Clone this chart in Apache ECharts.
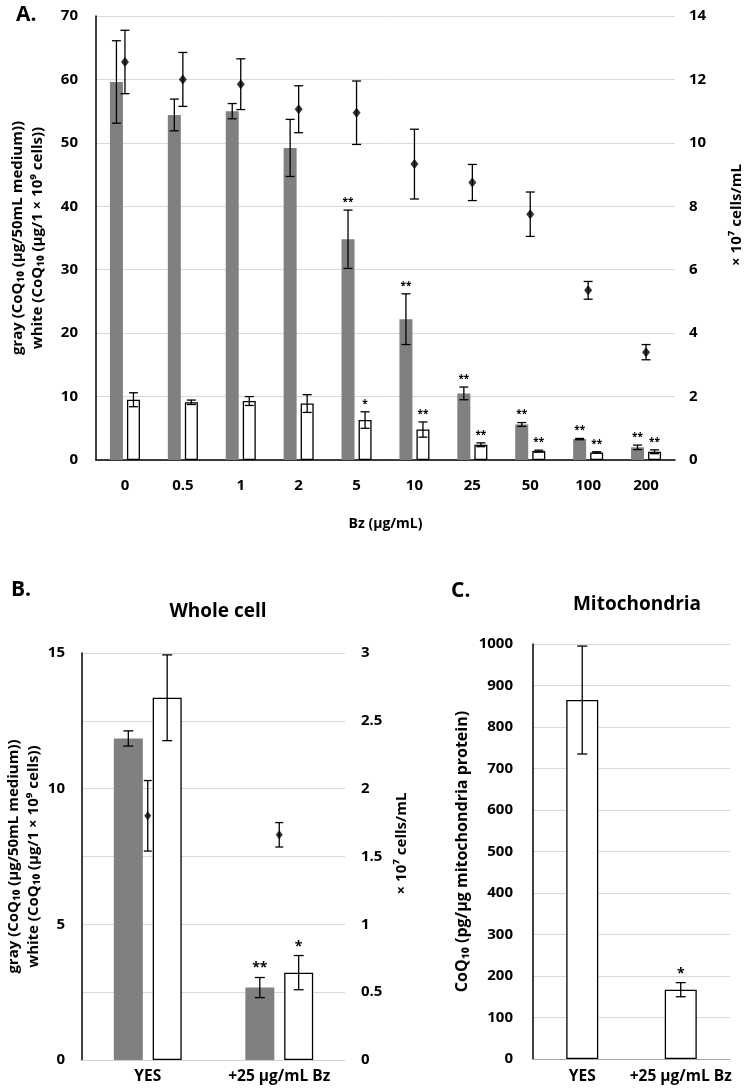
<!DOCTYPE html>
<html><head><meta charset="utf-8">
<script src="https://cdn.jsdelivr.net/npm/echarts@6/dist/echarts.min.js"></script>
<style>html,body{margin:0;padding:0;background:#fff}#c{width:755px;height:1091px}</style>
</head><body><div id="c"></div><script>
// ---- Panel A data ----
const catsA = ['0', '0.5', '1', '2', '5', '10', '25', '50', '100', '200'];
const grayA = [59.6, 54.4, 55.0, 49.2, 34.8, 22.2, 10.5, 5.6, 3.3, 2.0];
const grayErrA = [6.5, 2.5, 1.2, 4.5, 4.6, 4.0, 1.0, 0.3, 0.1, 0.35];
const whiteA = [9.5, 9.1, 9.3, 8.9, 6.3, 4.8, 2.4, 1.4, 1.2, 1.3];
const whiteErrA = [1.1, 0.35, 0.7, 1.4, 1.3, 1.2, 0.3, 0.15, 0.1, 0.3];
const cellsA = [12.55, 12.0, 11.85, 11.06, 10.95, 9.33, 8.75, 7.75, 5.35, 3.4];
const cellsErrA = [1.0, 0.85, 0.8, 0.74, 1.0, 1.1, 0.57, 0.7, 0.28, 0.24];
const sigGrayA = ['', '', '', '', '**', '**', '**', '**', '**', '**'];
const sigWhiteA = ['', '', '', '', '*', '**', '**', '**', '**', '**'];
// ---- Panel B data ----
const catsB = ['YES', '+25 μg/mL Bz'];
const grayB = [11.85, 2.67];
const grayErrB = [0.28, 0.37];
const whiteB = [13.35, 3.22];
const whiteErrB = [1.58, 0.63];
const cellsB = [1.8, 1.66];
const cellsErrB = [0.26, 0.09];
const sigGrayB = ['', '**'];
const sigWhiteB = ['', '*'];
// ---- Panel C data ----
const catsC = ['YES', '+25 μg/mL Bz'];
const mitoC = [865, 167];
const mitoErrC = [130, 17];
const sigC = ['', '*'];

const FF = '"Open Sans", "DejaVu Sans", sans-serif';
const BW_A = 13, GAP_A = 0.31;
const BW_B = 29, GAP_B = 0.34;
const BW_C = 32;
const offA = BW_A * (1 + GAP_A) / 2;
const offB = BW_B * (1 + GAP_B) / 2;

function errBars(o) {
  return {
    type: 'custom', xAxisIndex: o.xi, yAxisIndex: o.yi, z: 5,
    data: o.vals.map((v, i) => [i, v, o.errs[i]]),
    renderItem: function (params, api) {
      const i = api.value(0), v = api.value(1), e = api.value(2);
      const pH = api.coord([i, v + e]), pL = api.coord([i, v - e]);
      const x = pH[0] + o.offset, h = o.cap / 2;
      const st = { stroke: '#000', lineWidth: 1.3 };
      const ch = [
        { type: 'line', shape: { x1: x, y1: pH[1], x2: x, y2: pL[1] }, style: st },
        { type: 'line', shape: { x1: x - h, y1: pH[1], x2: x + h, y2: pH[1] }, style: st },
        { type: 'line', shape: { x1: x - h, y1: pL[1], x2: x + h, y2: pL[1] }, style: st }
      ];
      const s = o.sigs && o.sigs[params.dataIndex];
      if (s) {
        ch.push({ type: 'text', x: x, y: pH[1] - o.sigGap,
          style: { text: s, fill: '#000', fontSize: o.sigSize, fontWeight: 'bold', fontFamily: FF,
            align: 'center', verticalAlign: 'bottom' } });
      }
      return { type: 'group', children: ch };
    }
  };
}

const lbl = (m, fs) => ({ color: '#000', fontSize: fs || 15, fontWeight: 'bold', fontFamily: FF, margin: m,
  interval: 0, formatter: (v) => String(v) });
const nameStyle = (extra) => Object.assign({ color: '#000', fontSize: 15, fontWeight: 'bold', fontFamily: FF, lineHeight: 20 }, extra || {});
const grid = { lineStyle: { color: '#d9d9d9', width: 1 } };
const blackLine = { show: true, lineStyle: { color: '#000', width: 1.5 } };

const leftName = 'gray (CoQ₁₀ (μg/50mL medium))\nwhite (CoQ₁₀ (μg/1 × 10⁹ cells))';
const rightName = '× 10⁷ cells/mL';

const option = {
  animation: false,
  backgroundColor: '#fff',
  textStyle: { fontFamily: FF },
  grid: [
    { left: 90, top: 16, width: 594, height: 444 },
    { left: 82, top: 653, width: 263, height: 407 },
    { left: 533, top: 644, width: 197, height: 415 }
  ],
  xAxis: [
    { type: 'category', gridIndex: 0, data: catsA, axisLine: blackLine, axisTick: { show: false },
      axisLabel: lbl(18), name: 'Bz (μg/mL)', nameLocation: 'middle', nameGap: 54, nameTextStyle: nameStyle({ fontSize: 14 }) },
    { type: 'category', gridIndex: 1, data: catsB, axisLine: { show: true, lineStyle: { color: '#d0d0d0' } },
      axisTick: { show: false }, axisLabel: lbl(9, 15.5) },
    { type: 'category', gridIndex: 2, data: catsC, axisLine: { show: true, lineStyle: { color: '#a6a6a6' } },
      axisTick: { show: false }, axisLabel: lbl(10, 15.5) }
  ],
  yAxis: [
    { type: 'value', gridIndex: 0, min: 0, max: 70, interval: 10, axisLine: blackLine, axisTick: { show: false },
      splitLine: grid, axisLabel: lbl(18), name: leftName, nameLocation: 'middle', nameRotate: 90, nameGap: 48,
      nameTextStyle: nameStyle() },
    { type: 'value', gridIndex: 0, position: 'right', min: 0, max: 14, interval: 2, axisLine: { show: false },
      axisTick: { show: false }, splitLine: { show: false }, axisLabel: lbl(14), name: rightName,
      nameLocation: 'middle', nameRotate: 90, nameGap: 52, nameTextStyle: nameStyle({ padding: [0, 0, 0, 46] }) },
    { type: 'value', gridIndex: 1, min: 0, max: 15, interval: 5, axisLine: blackLine, axisTick: { show: false },
      splitLine: { show: false }, axisLabel: lbl(17), name: leftName, nameLocation: 'middle', nameRotate: 90,
      nameGap: 38, nameTextStyle: nameStyle() },
    { type: 'value', gridIndex: 1, position: 'right', min: 0, max: 3, interval: 0.5, axisLine: { show: false },
      axisTick: { show: false }, splitLine: grid, axisLabel: lbl(16), name: rightName, nameLocation: 'middle',
      nameRotate: 90, nameGap: 47, nameTextStyle: nameStyle({ padding: [0, 0, 0, 26] }) },
    { type: 'value', gridIndex: 2, min: 0, max: 1000, interval: 100, axisLine: blackLine, axisTick: { show: false },
      splitLine: grid, axisLabel: lbl(20), name: 'CoQ₁₀ (pg/μg mitochondria protein)', nameLocation: 'middle',
      nameRotate: 90, nameGap: 61, nameTextStyle: nameStyle({ fontSize: 16 }) }
  ],
  graphic: [
    { type: 'text', x: 16, y: 15, style: { text: 'A.', fontSize: 21, fontWeight: 'bold', fontFamily: FF, fill: '#000', verticalAlign: 'middle' } },
    { type: 'text', x: 11, y: 590, style: { text: 'B.', fontSize: 21, fontWeight: 'bold', fontFamily: FF, fill: '#000', verticalAlign: 'middle' } },
    { type: 'text', x: 451, y: 591, style: { text: 'C.', fontSize: 21, fontWeight: 'bold', fontFamily: FF, fill: '#000', verticalAlign: 'middle' } },
    { type: 'text', x: 218, y: 612, style: { text: 'Whole cell', fontSize: 19, fontWeight: 'bold', fontFamily: FF, fill: '#000', align: 'center', verticalAlign: 'middle' } },
    { type: 'text', x: 637, y: 605, style: { text: 'Mitochondria', fontSize: 19, fontWeight: 'bold', fontFamily: FF, fill: '#000', align: 'center', verticalAlign: 'middle' } }
  ],
  series: [
    // Panel A
    { type: 'bar', xAxisIndex: 0, yAxisIndex: 0, data: grayA, barWidth: BW_A, barGap: (GAP_A * 100) + '%',
      itemStyle: { color: '#808080' } },
    { type: 'bar', xAxisIndex: 0, yAxisIndex: 0, data: whiteA, barWidth: BW_A, barGap: (GAP_A * 100) + '%',
      itemStyle: { color: '#fff', borderColor: '#000', borderWidth: 1.3 } },
    errBars({ xi: 0, yi: 0, vals: grayA, errs: grayErrA, offset: -offA, cap: 9, sigs: sigGrayA, sigGap: 3, sigSize: 10 }),
    errBars({ xi: 0, yi: 0, vals: whiteA, errs: whiteErrA, offset: offA, cap: 9, sigs: sigWhiteA, sigGap: 3, sigSize: 10 }),
    errBars({ xi: 0, yi: 1, vals: cellsA, errs: cellsErrA, offset: 0, cap: 9 }),
    { type: 'scatter', xAxisIndex: 0, yAxisIndex: 1, data: cellsA, symbol: 'diamond', symbolSize: [8, 10],
      itemStyle: { color: '#000' }, z: 10 },
    // Panel B
    { type: 'bar', xAxisIndex: 1, yAxisIndex: 2, data: grayB, barWidth: BW_B, barGap: (GAP_B * 100) + '%',
      itemStyle: { color: '#808080' } },
    { type: 'bar', xAxisIndex: 1, yAxisIndex: 2, data: whiteB, barWidth: BW_B, barGap: (GAP_B * 100) + '%',
      itemStyle: { color: '#fff', borderColor: '#000', borderWidth: 1.3 } },
    errBars({ xi: 1, yi: 2, vals: grayB, errs: grayErrB, offset: -offB, cap: 10, sigs: sigGrayB, sigGap: 2, sigSize: 14 }),
    errBars({ xi: 1, yi: 2, vals: whiteB, errs: whiteErrB, offset: offB, cap: 10, sigs: sigWhiteB, sigGap: 2, sigSize: 14 }),
    errBars({ xi: 1, yi: 3, vals: cellsB, errs: cellsErrB, offset: 0, cap: 8 }),
    { type: 'scatter', xAxisIndex: 1, yAxisIndex: 3, data: cellsB, symbol: 'diamond', symbolSize: [7, 9],
      itemStyle: { color: '#000' }, z: 10 },
    // Panel C
    { type: 'bar', xAxisIndex: 2, yAxisIndex: 4, data: mitoC, barWidth: BW_C,
      itemStyle: { color: '#fff', borderColor: '#000', borderWidth: 1.3 } },
    errBars({ xi: 2, yi: 4, vals: mitoC, errs: mitoErrC, offset: 0, cap: 10, sigs: sigC, sigGap: 2, sigSize: 14 })
  ]
};
const chart = echarts.init(document.getElementById('c'), null, { renderer: 'canvas' });
chart.setOption(option);
</script></body></html>
